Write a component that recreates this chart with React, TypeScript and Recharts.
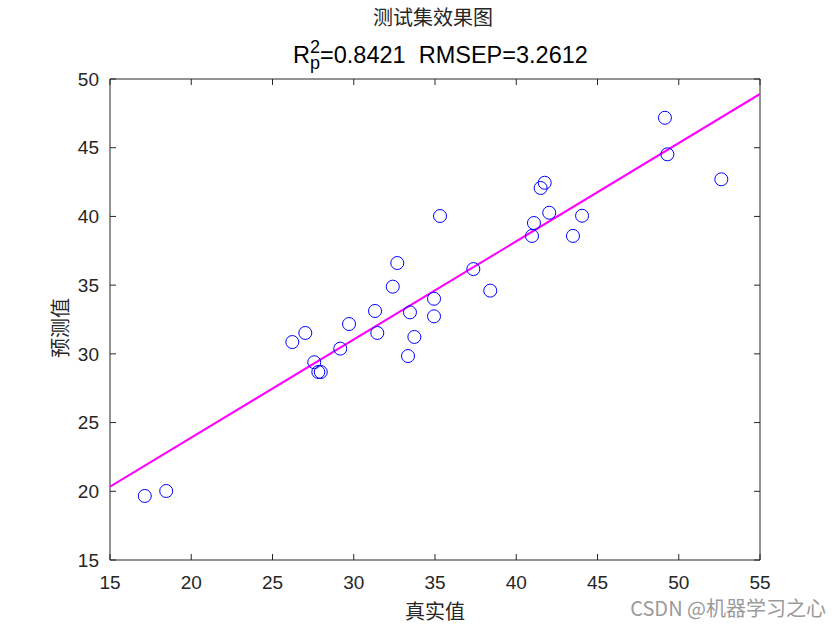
import React from "react";
import { ScatterChart, Scatter, XAxis, YAxis } from "recharts";

const actualValues = [
  17.14, 18.46, 26.22, 27.02, 27.57, 27.82, 27.97, 29.17, 29.71, 31.31, 31.45,
  32.4, 32.68, 33.46, 33.34, 33.73, 34.94, 34.94, 35.31, 37.36, 38.4, 40.97,
  41.09, 41.5, 41.75, 42.03, 43.49, 44.05, 49.15, 49.3, 52.62,
];
const predictedValues = [
  19.66, 20.02, 30.86, 31.52, 29.39, 28.68, 28.68, 30.38, 32.17, 33.12, 31.52,
  34.89, 36.61, 33.02, 29.84, 31.23, 34.01, 32.73, 40.03, 36.17, 34.6, 38.58,
  39.52, 42.07, 42.45, 40.27, 38.58, 40.05, 47.18, 44.52, 42.7,
];
const fitX = [15, 55];
const fitY = [20.33, 48.91];
const xTicks = [15, 20, 25, 30, 35, 40, 45, 50, 55];
const yTicks = [15, 20, 25, 30, 35, 40, 45, 50];

const points = actualValues.map((x, i) => ({ x, y: predictedValues[i] }));
const fitLine = fitX.map((x, i) => ({ x, y: fitY[i] }));

const axisColor = "#262626";
const latin = "'Liberation Sans', Arial, sans-serif";
const tickFont = { fontSize: 19, fill: axisColor, fontFamily: latin };
const cjkFont = "'Noto Sans CJK SC', sans-serif";

const Ring = (p: any) => (
  <circle cx={p.cx} cy={p.cy} r={6.5} fill="none" stroke="#0000ff" strokeWidth={1} />
);
const Empty = () => <g />;

export default function App() {
  return (
    <div style={{ position: "absolute", left: 0, top: 0, width: 840, height: 630, background: "#fff" }}>
      <ScatterChart width={840} height={630} margin={{ top: 78, right: 79, bottom: 0, left: 0 }}>
        <XAxis
          dataKey="x"
          type="number"
          domain={[15, 55]}
          ticks={xTicks}
          height={70}
          tick={tickFont}
          tickSize={-6}
          tickMargin={22}
          stroke={axisColor}
          allowDataOverflow
        />
        <XAxis
          xAxisId="top"
          dataKey="x"
          orientation="top"
          type="number"
          domain={[15, 55]}
          ticks={xTicks}
          height={1}
          tickSize={-6}
          tickFormatter={() => ""}
          stroke={axisColor}
          allowDataOverflow
        />
        <YAxis
          dataKey="y"
          type="number"
          domain={[15, 50]}
          ticks={yTicks}
          width={110}
          tick={tickFont}
          tickSize={-6}
          tickMargin={17}
          stroke={axisColor}
          allowDataOverflow
        />
        <YAxis
          yAxisId="right"
          dataKey="y"
          orientation="right"
          type="number"
          domain={[15, 50]}
          ticks={yTicks}
          width={1}
          tickSize={-6}
          tickFormatter={() => ""}
          stroke={axisColor}
          allowDataOverflow
        />
        <Scatter
          data={fitLine}
          line={{ stroke: "#ff00ff", strokeWidth: 2 }}
          shape={Empty}
          isAnimationActive={false}
        />
        <Scatter data={points} shape={Ring} isAnimationActive={false} />
        <Scatter
          data={points}
          xAxisId="top"
          yAxisId="right"
          shape={Empty}
          isAnimationActive={false}
        />
      </ScatterChart>
      <svg
        width={840}
        height={630}
        style={{ position: "absolute", left: 0, top: 0, pointerEvents: "none" }}
      >
        <text x={433} y={25} textAnchor="middle" fontSize={20} fill={axisColor} fontFamily={cjkFont}>
          测试集效果图
        </text>
        <text x={293} y={63} fontSize={23.5} fill="#000" fontFamily={latin}>
          <tspan>R</tspan>
          <tspan dy={-10} fontSize={18}>2</tspan>
          <tspan dx={-10} dy={16} fontSize={18}>p</tspan>
          <tspan dy={-6}>{"=0.8421\u00a0 RMSEP=3.2612"}</tspan>
        </text>
        <text x={435} y={619} textAnchor="middle" fontSize={20} fill={axisColor} fontFamily={cjkFont}>
          真实值
        </text>
        <text
          x={59}
          y={328}
          textAnchor="middle"
          dominantBaseline="central"
          fontSize={20}
          fill={axisColor}
          fontFamily={cjkFont}
          transform="rotate(-90 59 328)"
        >
          预测值
        </text>
        <text x={826} y={616} textAnchor="end" fontSize={20} fill="#9a9a9a" fontFamily={cjkFont}>
          CSDN @机器学习之心
        </text>
      </svg>
    </div>
  );
}
